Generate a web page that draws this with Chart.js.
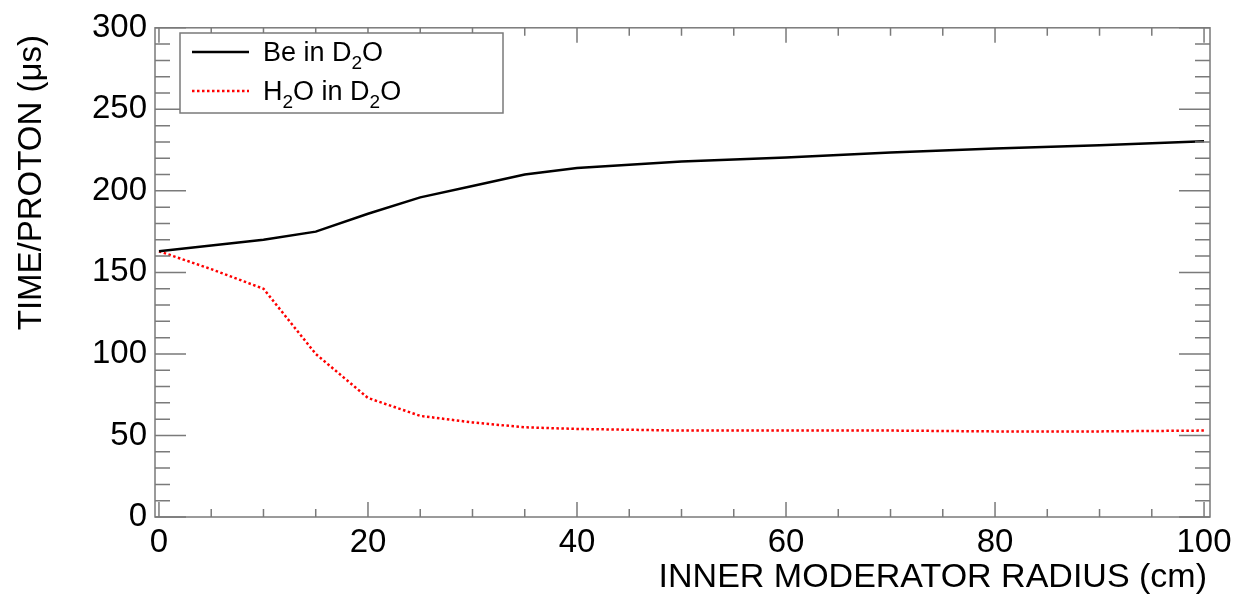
<!DOCTYPE html>
<html>
<head>
<meta charset="utf-8">
<script src="https://cdn.jsdelivr.net/npm/chart.js@4/dist/chart.umd.min.js"></script>
<style>
  html, body { margin: 0; padding: 0; background: #fff; }
  #wrap { width: 1245px; height: 602px; }
</style>
</head>
<body>
<div id="wrap"><canvas id="myChart" width="1245" height="602"></canvas></div>
<script>
'use strict';

// data
const radius = [ 0, 5, 10, 15, 20, 25, 30, 35, 40, 50, 60, 70, 80, 90, 100 ];
const beInD2O = [ 163, 166.5, 170, 175, 186, 196, 203, 210, 214, 218, 220.5, 223.5, 226, 228, 230.5 ];
const h2oInD2O = [ 163, 152, 140, 100, 73, 62, 58, 55, 54, 53, 53, 53, 52.5, 52.5, 53 ];

const xTicks = [ 0, 20, 40, 60, 80, 100 ];
const yTicks = [ 0, 50, 100, 150, 200, 250, 300 ];
const xMinorStep = 5;
const yMinorStep = 10;

const frameColor = '#7a7a7a';
const fontFamily = '"Liberation Sans", Arial, Helvetica, sans-serif';

function toPoints( xs, ys ) {
  let pts = [];
  for ( let i = 0; i < xs.length; i++ ) {
    pts.push( { x: xs[i], y: ys[i] } );
  }
  return pts;
}

// draws the root-style frame, inward ticks, axis titles and legend box
const rootFrame = {
  id: 'rootFrame',
  afterDraw( chart ) {
    const ctx = chart.ctx;
    const a = chart.chartArea;
    const xs = chart.scales.x;
    const ys = chart.scales.y;
    ctx.save();
    ctx.strokeStyle = frameColor;
    ctx.lineWidth = 1.5;
    ctx.strokeRect( a.left, a.top, a.right - a.left, a.bottom - a.top );

    ctx.beginPath();
    for ( let v = 0; v <= 100; v += xMinorStep ) {
      let px = xs.getPixelForValue( v );
      let len = xTicks.includes( v ) ? 15 : 8;
      ctx.moveTo( px, a.bottom ); ctx.lineTo( px, a.bottom - len );
      ctx.moveTo( px, a.top ); ctx.lineTo( px, a.top + len );
    }
    for ( let v = 0; v <= 300; v += yMinorStep ) {
      let py = ys.getPixelForValue( v );
      let len = yTicks.includes( v ) ? 31 : 15;
      ctx.moveTo( a.left, py ); ctx.lineTo( a.left + len, py );
      ctx.moveTo( a.right, py ); ctx.lineTo( a.right - len, py );
    }
    ctx.stroke();

    // axis titles
    ctx.fillStyle = '#000';
    ctx.font = '34px ' + fontFamily;
    ctx.textAlign = 'right';
    ctx.textBaseline = 'alphabetic';
    ctx.fillText( 'INNER MODERATOR RADIUS (cm)', 1207, 587 );

    ctx.save();
    ctx.translate( 41, 35 );
    ctx.rotate( -Math.PI / 2 );
    ctx.font = '33px ' + fontFamily;
    ctx.textAlign = 'right';
    ctx.fillText( 'TIME/PROTON (\u03bcs)', 0, 0 );
    ctx.restore();

    // legend
    ctx.fillStyle = '#fff';
    ctx.fillRect( 180, 33, 323, 80 );
    ctx.strokeStyle = frameColor;
    ctx.lineWidth = 1.5;
    ctx.strokeRect( 180, 33, 323, 80 );

    ctx.lineWidth = 2.5;
    ctx.strokeStyle = '#000';
    ctx.beginPath(); ctx.moveTo( 192, 52 ); ctx.lineTo( 249, 52 ); ctx.stroke();
    ctx.strokeStyle = '#ff0000';
    ctx.setLineDash( [ 2.5, 2.5 ] );
    ctx.beginPath(); ctx.moveTo( 192, 91 ); ctx.lineTo( 249, 91 ); ctx.stroke();
    ctx.setLineDash( [] );

    ctx.fillStyle = '#000';
    ctx.textAlign = 'left';
    let rows = [ [ 'Be in D', '2', 'O', 61 ], [ 'H', '2', 'O in D', 100 ] ];
    for ( let r of rows ) {
      let x = 263;
      ctx.font = '27px ' + fontFamily;
      ctx.fillText( r[0], x, r[3] );
      x += ctx.measureText( r[0] ).width;
      ctx.font = '19px ' + fontFamily;
      ctx.fillText( r[1], x, r[3] + 8 );
      x += ctx.measureText( r[1] ).width;
      ctx.font = '27px ' + fontFamily;
      ctx.fillText( r[2], x, r[3] );
      x += ctx.measureText( r[2] ).width;
      if ( r[0] === 'H' ) {
        ctx.font = '19px ' + fontFamily;
        ctx.fillText( '2', x, r[3] + 8 );
        x += ctx.measureText( '2' ).width;
        ctx.font = '27px ' + fontFamily;
        ctx.fillText( 'O', x, r[3] );
      }
    }
    ctx.restore();
  }
};

let ctx = document.getElementById( 'myChart' ).getContext( '2d' );
let myChart = new Chart( ctx, {
  type: 'line',
  data: {
    datasets: [ {
      label: 'Be in D2O',
      data: toPoints( radius, beInD2O ),
      borderColor: '#000',
      borderWidth: 2.5,
      pointRadius: 0,
      tension: 0,
      fill: false
    }, {
      label: 'H2O in D2O',
      data: toPoints( radius, h2oInD2O ),
      borderColor: '#ff0000',
      borderWidth: 2.5,
      borderDash: [ 2.5, 2.5 ],
      pointRadius: 0,
      tension: 0,
      fill: false
    } ]
  },
  options: {
    responsive: false,
    animation: false,
    layout: { padding: { top: 19, right: 35, left: 0, bottom: 0 } },
    plugins: {
      legend: { display: false },
      tooltip: { enabled: false }
    },
    scales: {
      x: {
        type: 'linear',
        min: -0.38,
        max: 100.57,
        grid: { display: false, drawTicks: false },
        border: { display: false },
        afterBuildTicks: ( s ) => { s.ticks = xTicks.map( v => ( { value: v } ) ); },
        afterFit: ( s ) => { s.height = 85; },
        ticks: {
          color: '#000',
          padding: 6,
          maxRotation: 0,
          font: { family: fontFamily, size: 33 }
        }
      },
      y: {
        type: 'linear',
        min: 0,
        max: 300,
        grid: { display: false, drawTicks: false },
        border: { display: false },
        afterBuildTicks: ( s ) => { s.ticks = yTicks.map( v => ( { value: v } ) ); },
        afterFit: ( s ) => { s.width = 155; },
        ticks: {
          color: '#000',
          padding: 8,
          font: { family: fontFamily, size: 33 }
        }
      }
    }
  },
  plugins: [ rootFrame ]
} );
</script>
</body>
</html>
